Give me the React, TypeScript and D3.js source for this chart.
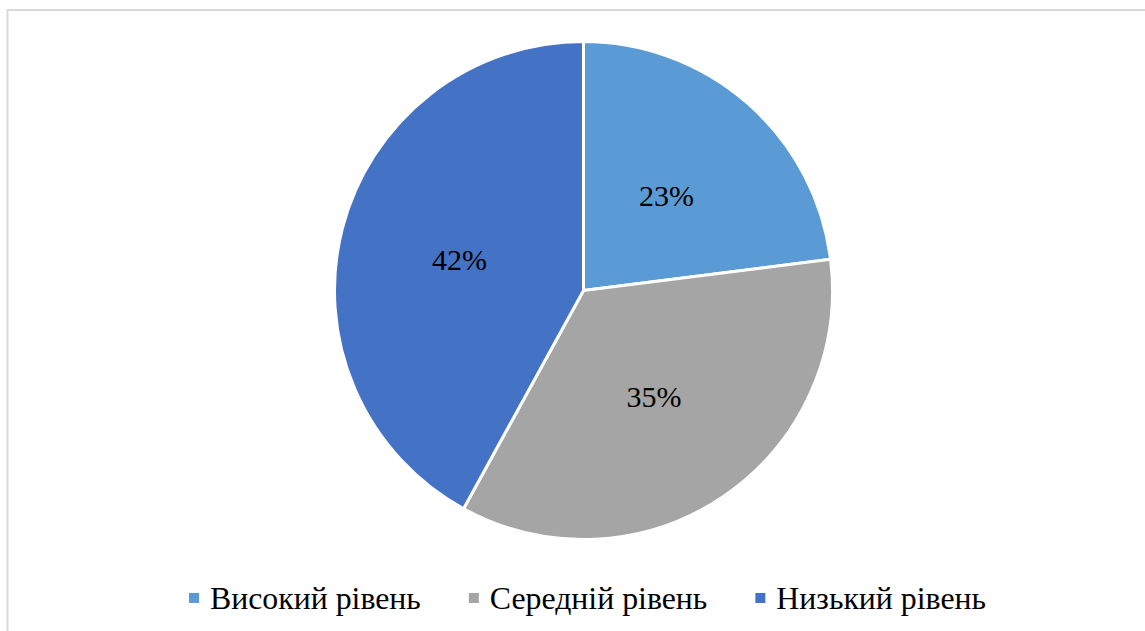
import React, { useEffect, useRef } from "react";
import * as d3 from "d3";

const categories = ["Високий рівень", "Середній рівень", "Низький рівень"];
const values = [23, 35, 42];
const colors = ["#5B9BD5", "#A5A5A5", "#4472C4"];

const FONT = "'Liberation Serif', 'Times New Roman', serif";

export default function App() {
  const ref = useRef<SVGSVGElement>(null);
  useEffect(() => {
    const svg = d3.select(ref.current);
    svg.selectAll("*").remove();
    const W = 1145, H = 631;
    svg.append("rect").attr("x", 0).attr("y", 0).attr("width", W).attr("height", H).attr("fill", "#fff");
    svg.append("rect").attr("x", 7.5).attr("y", 10).attr("width", 1200).attr("height", 700)
      .attr("fill", "none").attr("stroke", "#d9d9d9").attr("stroke-width", 2);

    const cx = 583.5, cy = 290.5, R = 249;
    const data = categories.map((c, i) => ({ c, v: values[i], color: colors[i] }));
    const pie = d3.pie<any>().value((d) => d.v).sort(null);
    const arcs = pie(data);
    const arc = d3.arc<any>().innerRadius(0).outerRadius(R);
    const labelArc = d3.arc<any>().innerRadius(R * 0.51).outerRadius(R * 0.51);
    const g = svg.append("g").attr("transform", `translate(${cx},${cy})`);
    g.selectAll("path").data(arcs).enter().append("path")
      .attr("d", arc as any).attr("fill", (d: any) => d.data.color)
      .attr("stroke", "#fff").attr("stroke-width", 3).attr("stroke-linejoin", "round");
    g.selectAll("text").data(arcs).enter().append("text")
      .attr("transform", (d: any) => { const [x, y] = labelArc.centroid(d); return `translate(${x - 1},${y + 1})`; })
      .attr("text-anchor", "middle").attr("dy", "0.34em")
      .style("font-family", FONT).attr("font-size", 30)
      .attr("fill", "#000")
      .text((d: any) => `${d.data.v}%`);

    const lg = svg.append("g");
    let x = 189;
    data.forEach((d) => {
      lg.append("rect").attr("x", x).attr("y", 593).attr("width", 10).attr("height", 10).attr("fill", d.color);
      const tx = x + 21;
      const t = lg.append("text").attr("x", tx).attr("y", 608.5)
        .style("font-family", FONT).attr("font-size", 31.8)
        .attr("fill", "#000").text(d.c);
      const len = (t.node() as SVGTextElement).getComputedTextLength();
      x = tx + len + 48;
    });
  }, []);
  return <svg ref={ref} width={1145} height={631} style={{ position: "absolute", left: 0, top: 0, display: "block" }} />;
}
